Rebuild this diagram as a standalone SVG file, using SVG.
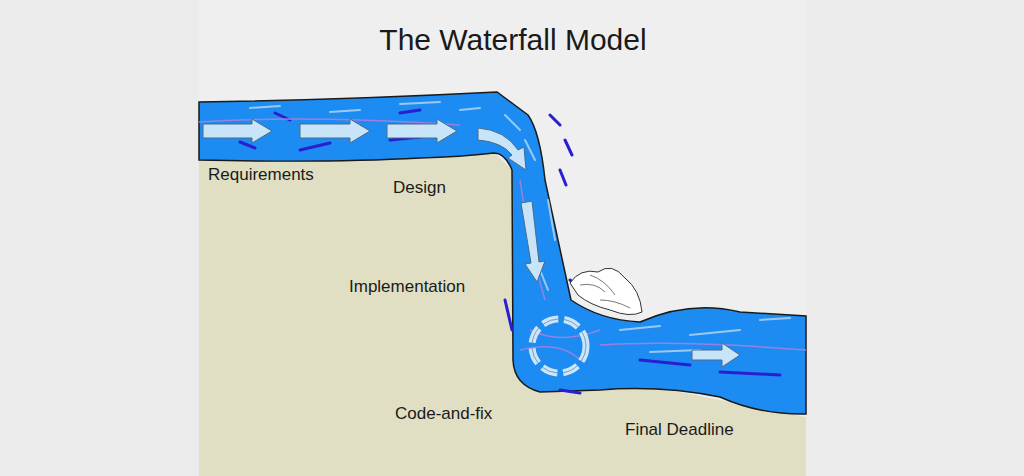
<svg xmlns="http://www.w3.org/2000/svg" width="1024" height="476" viewBox="0 0 1024 476">
<defs>
<style>
.t{font-family:"Liberation Sans",Arial,sans-serif;fill:#1a1a1a}
.arr{fill:#c8e4f8;stroke:#4a6a8a;stroke-width:1}
.lb{stroke:#9cc8f0;stroke-width:2;fill:none;stroke-linecap:round}
.db{stroke:#2a1fd0;stroke-width:3;fill:none;stroke-linecap:round}
.pl{stroke:#9a80e0;stroke-width:1.5;fill:none}
</style>
<marker id="m" viewBox="0 0 10 10" refX="5" refY="5" markerWidth="4" markerHeight="4" orient="auto"><path d="M0 0L10 5L0 10z" fill="#c8e4f8" stroke="#4a6a8a"/></marker>
</defs>
<rect width="1024" height="476" fill="#ebebeb"/>
<rect x="199" y="0" width="607" height="476" fill="#efefef"/>
<text class="t" x="513" y="50" font-size="30" text-anchor="middle">The Waterfall Model</text>
<!-- ground -->
<path d="M199 155 L494 152 L512 170 L514 370 L540 392 L660 388 L720 400 L806 417 L806 476 L199 476 Z" fill="#e0dfc3"/>
<!-- water -->
<g id="water">
<path d="M199 102 Q340 100 497 92 L528 115 Q540 132 545 180 L571 300 Q600 320 640 322 Q690 300 740 312 L806 316 L806 414 Q760 415 720 397 Q660 385 600 390 L540 392 Q514 385 513 360 L512 170 Q505 153 494 153 Q460 157 420 158 Q330 163 199 160 Z" fill="#1c8cf2" stroke="#1a1a1a" stroke-width="1.5"/>
<path class="lb" d="M250 108 L280 106 M330 112 L360 110 M400 104 L440 102 M460 110 L480 108 M505 115 L520 130 M525 140 L535 160 M548 200 L555 240 M540 270 L548 290 M620 330 L660 326 M690 335 L740 330 M760 320 L790 318 M650 352 L700 350"/>
<path class="db" d="M275 113 L290 120 M240 142 L255 148 M300 150 L330 143 M400 113 L420 110 M390 140 L420 137 M525 205 L532 260 M505 300 L512 330 M550 115 L560 125 M565 140 L572 155 M560 170 L566 185 M570 280 L580 288 M640 360 L690 365 M720 372 L780 375 M560 390 L580 393"/>
<path class="pl" d="M199 122 Q300 115 460 125 M520 180 Q530 250 545 300 M530 330 Q560 345 600 330 M600 345 Q680 340 806 350 M520 350 Q560 340 580 360"/>
<!-- foam -->
<path d="M570 283 Q580 268 598 272 Q612 262 625 278 Q640 290 642 312 Q630 318 610 310 Q590 305 578 295 Z" fill="#fff" stroke="#333" stroke-width="1"/>
<path d="M580 285 Q595 282 605 292 M590 275 Q605 280 615 295 M600 300 Q615 300 630 308" fill="none" stroke="#555" stroke-width="0.8"/>
</g>
<g id="arrows">
<path class="arr" d="M203 124 L252 124 L252 119 L272 131 L252 143 L252 138 L203 138 Z"/>
<path class="arr" d="M300 124 L350 124 L350 119 L370 131 L350 143 L350 138 L300 138 Z"/>
<path class="arr" d="M387 124 L437 124 L437 119 L457 131 L437 143 L437 138 L387 138 Z"/>
<path class="arr" d="M478 128 Q505 130 518 150 L524 147 L526 170 L508 158 L512 155 Q502 142 478 140 Z"/>
<path class="arr" d="M521 203 L532 201 L539 262 L545 261 L537 282 L525 264 L531 263 Z"/>
<path class="arr" d="M692 350 L722 350 L722 343 L740 355 L722 367 L722 360 L692 360 Z"/>
<g fill="none" stroke="#dfeefb" stroke-width="7" stroke-dasharray="16 6" opacity="0.9">
<circle cx="559" cy="346" r="27"/>
</g>
<circle cx="559" cy="346" r="27" fill="none" stroke="#4a6a8a" stroke-width="0.6" stroke-dasharray="16 6"/>
</g>
<text class="t" x="208" y="180" font-size="17">Requirements</text>
<text class="t" x="393" y="193" font-size="17">Design</text>
<text class="t" x="349" y="292" font-size="17">Implementation</text>
<text class="t" x="395" y="419" font-size="17">Code-and-fix</text>
<text class="t" x="625" y="435" font-size="17">Final Deadline</text>
</svg>
